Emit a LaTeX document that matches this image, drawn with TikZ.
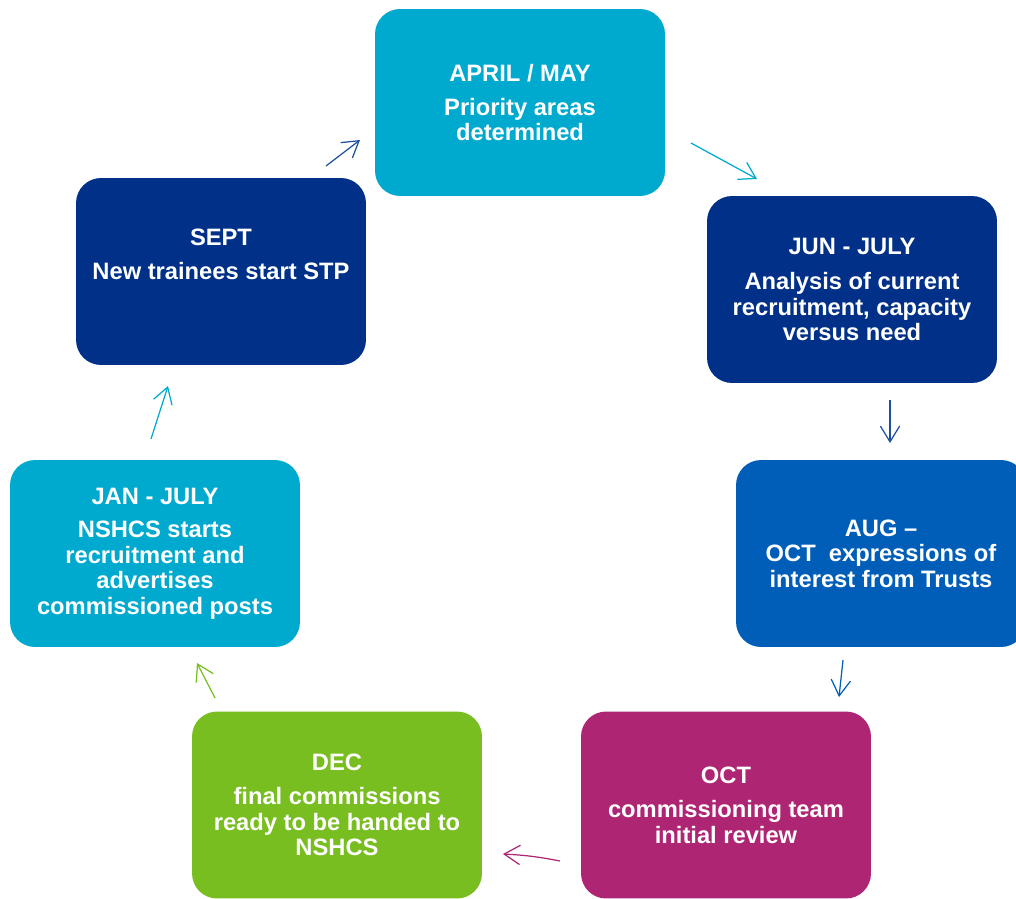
\documentclass[tikz,border=0pt]{standalone}
\usepackage{fontspec}
\setmainfont{Liberation Sans}
\usetikzlibrary{arrows.meta}

\definecolor{nhscyan}{HTML}{00A9CE}
\definecolor{nhsnavy}{HTML}{003087}
\definecolor{nhsblue}{HTML}{005EB8}
\definecolor{nhspink}{HTML}{AE2573}
\definecolor{nhsgreen}{HTML}{78BE20}
\definecolor{arrnavy}{HTML}{1D4F9E}

\tikzset{
  stage/.style={shape=rectangle, rounded corners=0.5cm, minimum width=5.8cm,
    minimum height=3.74cm, inner sep=0pt, align=center, text=white,
    font=\fontsize{13.5}{14.5}\selectfont\bfseries},
  flow/.style={-{Straight Barb[length=9pt,width=11pt]}, line width=0.7pt},
}

\begin{document}
\begin{tikzpicture}[x=0.02cm,y=-0.02cm]
                \useasboundingbox (0,0) rectangle (1016,898);

                \node[stage, fill=nhscyan] (1) at (520,102.5) {APRIL / MAY\\[0.17cm]Priority areas\\determined};
                \node[stage, fill=nhsnavy] (2) at (852,289.5) {JUN - JULY\\[0.2cm]Analysis of current\\recruitment, capacity\\versus need};
                \node[stage, fill=nhsblue] (3) at (881,553.5) {AUG --\\OCT\ \ expressions of\\interest from Trusts};
                \node[stage, fill=nhspink] (4) at (726,805) {OCT\\[0.18cm]commissioning team\\initial review};
                \node[stage, fill=nhsgreen] (5) at (337,805) {DEC\\[0.18cm]final commissions\\ready to be handed to\\NSHCS};
                \node[stage, fill=nhscyan] (6) at (155,553.5) {JAN - JULY\\[0.17cm]NSHCS starts\\recruitment and\\advertises\\commissioned posts};
                \node[stage, fill=nhsnavy] (7) at (221,271.5) {SEPT\\[0.17cm]New trainees start STP\\[0.2cm]~};

                \coordinate (a1) at (326,166);
                \coordinate (b1) at (360,140);
                \coordinate (a2) at (691,143);
                \coordinate (b2) at (757,179);
                \coordinate (a3) at (890,400);
                \coordinate (b3) at (890,443);
                \coordinate (a4) at (843,660);
                \coordinate (b4) at (839,697);
                \coordinate (a5) at (560,861);
                \coordinate (b5) at (503,854);
                \coordinate (a6) at (215,698);
                \coordinate (b6) at (197,663);
                \coordinate (a7) at (151,439);
                \coordinate (b7) at (168,386);

                \draw[flow, arrnavy] (a1) -- (b1);
                \draw[flow, nhscyan] (a2) -- (b2);
                \draw[flow, arrnavy] (a3) -- (b3);
                \draw[flow, nhsblue] (a4) -- (b4);
                \draw[flow, nhspink] (a5) to[bend right=4] (b5);
                \draw[flow, nhsgreen] (a6) -- (b6);
                \draw[flow, nhscyan] (a7) -- (b7);
            \end{tikzpicture}
\end{document}
